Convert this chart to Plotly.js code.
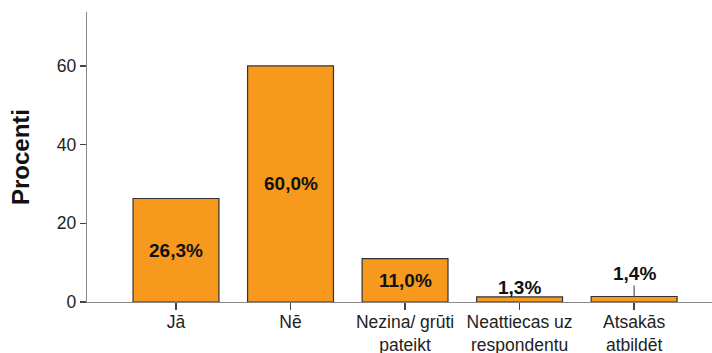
<!DOCTYPE html>
<html>
<head>
<meta charset="utf-8">
<script src="https://cdn.plot.ly/plotly-3.0.1.min.js"></script>
<style>
  html, body { margin: 0; padding: 0; background: #fff; }
  #chart { width: 712px; height: 353px; }
</style>
</head>
<body>
<div id="chart"></div>
<script>
// Survey answer categories and their shares (percent)
const categories = ["Jā", "Nē", "Nezina/ grūti<br>pateikt", "Neattiecas uz<br>respondentu", "Atsakās<br>atbildēt"];
const percents = [26.3, 60.0, 11.0, 1.3, 1.4];
const yTicks = [0, 20, 40, 60];

const FONT = "Liberation Sans, Arial, sans-serif";
const fmt = v => v.toFixed(1).replace(".", ",") + "%";

const trace = {
  type: "bar",
  x: categories.map((_, i) => i),
  y: percents,
  width: 0.75,
  marker: { color: "#F7991D", line: { color: "#333333", width: 1.2 } },
  hoverinfo: "skip"
};

// Value labels: centred in tall bars, sitting on top of the thin ones
const annotations = percents.map((v, i) => {
  const base = {
    x: i, xref: "x", yref: "y",
    text: "<b>" + fmt(v) + "</b>",
    font: { family: FONT, size: 19, color: "#111" },
    showarrow: false
  };
  if (v >= 5) return Object.assign(base, { y: v / 2 });
  if (i === 4) {
    return Object.assign(base, {
      y: v, showarrow: true, arrowhead: 0, arrowwidth: 1, arrowcolor: "#333",
      ax: 0, ay: -23, standoff: 0
    });
  }
  return Object.assign(base, { y: v, yanchor: "bottom", yshift: -3 });
});

const layout = {
  width: 712, height: 353,
  margin: { l: 87, r: 0, t: 12, b: 51 },
  paper_bgcolor: "#fff", plot_bgcolor: "#fff",
  showlegend: false,
  font: { family: FONT, color: "#222" },
  xaxis: {
    range: [-0.777, 4.68],
    tickmode: "array",
    tickvals: categories.map((_, i) => i),
    ticktext: categories,
    ticks: "outside", ticklen: 7, tickcolor: "#444", tickwidth: 1.3,
    ticklabelstandoff: -3,
    showline: true, linecolor: "#888", linewidth: 1.3,
    showgrid: false, zeroline: false,
    tickfont: { family: FONT, size: 17.5, color: "#222" }
  },
  yaxis: {
    range: [0, 73.7],
    tickmode: "array", tickvals: yTicks,
    ticks: "outside", ticklen: 6, tickcolor: "#444", tickwidth: 1.3,
    showline: true, linecolor: "#888", linewidth: 1.3,
    showgrid: false, zeroline: false,
    tickfont: { family: FONT, size: 17.5, color: "#222" },
    title: { text: "<b>Procenti</b>", font: { family: FONT, size: 24, color: "#111" }, standoff: 20 }
  },
  annotations: annotations
};

Plotly.newPlot("chart", [trace], layout, { staticPlot: true, displayModeBar: false });
</script>
</body>
</html>
